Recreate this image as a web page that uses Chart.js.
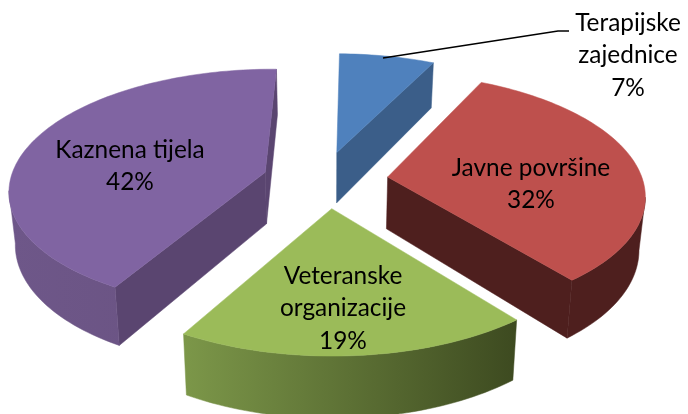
<!DOCTYPE html>
<html><head><meta charset="utf-8">
<style>html,body{margin:0;padding:0;background:#fff}canvas{display:block}</style>
<script src="https://cdn.jsdelivr.net/npm/chart.js@4"></script></head>
<body><canvas id="c" width="688" height="414"></canvas>
<script>
const categories = ["Terapijske zajednice", "Javne površine", "Veteranske organizacije", "Kaznena tijela"];
const shares = [7, 32, 19, 42];
const topColors = ["#4F81BD", "#BE504D", "#9BBB59", "#8064A2"];
const cutColors = ["#3B5E89", "#4E1F1E", "#3F4D22", "#5A4570"];
const wallStops = [["#3B5E89", "#3B5E89"], ["#4E1F1E", "#4E1F1E"], ["#7C9749", "#3D4A20"], ["#6E5789", "#68517F"]];
const labelLines = [["Terapijske", "zajednice"], ["Javne površine"], ["Veteranske", "organizacije"], ["Kaznena tijela"]];
const labelAnchors = [[628, 23], [531, 168], [343, 276], [130, 150]];
const explodeBy = [0.245, 0.234, 0.234, 0.245];
const shiftU = [-0.018, 0.006, 0, -0.008];
const LINE = 32.5, CX = 327, CY = 180, RX = 255, RY = 119, K = 0.135, DEPTH = 52, BOTTOM_X = 0.98;

function project(u, v, low) {
  const s = 1 / (1 - K * v);
  return low ? [CX + u * RX * s * BOTTOM_X, CY + v * RY * s + DEPTH * s]
             : [CX + u * RX * s, CY + v * RY * s];
}
function poly(ctx, pts, fill) {
  ctx.beginPath();
  pts.forEach((p, i) => i ? ctx.lineTo(p[0], p[1]) : ctx.moveTo(p[0], p[1]));
  ctx.closePath();
  ctx.fillStyle = fill; ctx.fill();
  ctx.strokeStyle = fill; ctx.lineWidth = 0.5; ctx.stroke();
}
function sliceDraw(ctx, arc, i) {
  const a0 = arc.startAngle, a1 = arc.endAngle, mid = (a0 + a1) / 2;
  const ou = Math.cos(mid) * explodeBy[i] + shiftU[i], ov = Math.sin(mid) * explodeBy[i];
  const plane = [[ou, ov]];
  const n = Math.max(8, Math.round((a1 - a0) * 40));
  for (let j = 0; j <= n; j++) {
    const a = a0 + (a1 - a0) * j / n;
    plane.push([ou + Math.cos(a), ov + Math.sin(a)]);
  }
  const top = plane.map(p => project(p[0], p[1], false));
  const low = plane.map(p => project(p[0], p[1], true));
  const xs = top.map(p => p[0]);
  const g = ctx.createLinearGradient(Math.min(...xs), 0, Math.max(...xs), 0);
  g.addColorStop(0, wallStops[i][0]); g.addColorStop(1, wallStops[i][1]);
  const m = top.length;
  if (top[1][0] < top[0][0]) poly(ctx, [top[0], top[1], low[1], low[0]], cutColors[i]);
  if (top[0][0] < top[m - 1][0]) poly(ctx, [top[m - 1], top[0], low[0], low[m - 1]], cutColors[i]);
  let run = null;
  const flush = () => { if (run) { poly(ctx, run.t.concat(run.l.reverse()), g); run = null; } };
  for (let j = 1; j < m - 1; j++) {
    if (top[j + 1][0] < top[j][0]) {
      if (!run) run = { t: [top[j]], l: [low[j]] };
      run.t.push(top[j + 1]); run.l.push(low[j + 1]);
    } else flush();
  }
  flush();
  poly(ctx, top, topColors[i]);
}
const pie3d = {
  id: "pie3d",
  beforeDatasetDraw(chart, args) {
    const ctx = chart.ctx, arcs = args.meta.data;
    [0, 3, 1, 2].forEach(i => sliceDraw(ctx, arcs[i], i));
    return false;
  },
  afterDraw(chart) {
    const ctx = chart.ctx;
    ctx.strokeStyle = "#000"; ctx.lineWidth = 1.5;
    ctx.beginPath(); ctx.moveTo(383, 58); ctx.lineTo(558, 31); ctx.lineTo(569, 31); ctx.stroke();
    ctx.fillStyle = "#000"; ctx.textAlign = "center"; ctx.textBaseline = "middle";
    ctx.font = "24.4px Lato";
    categories.forEach((c, i) => {
      const lines = labelLines[i].concat([shares[i] + "%"]);
      lines.forEach((t, j) => ctx.fillText(t, labelAnchors[i][0], labelAnchors[i][1] + j * LINE));
    });
  }
};
new Chart(document.getElementById("c"), {
  type: "pie",
  data: { labels: categories, datasets: [{ data: shares, backgroundColor: topColors, borderWidth: 0 }] },
  options: { responsive: false, animation: false, rotation: 1,
    plugins: { legend: { display: false }, tooltip: { enabled: false } } },
  plugins: [pie3d]
});
</script></body></html>
